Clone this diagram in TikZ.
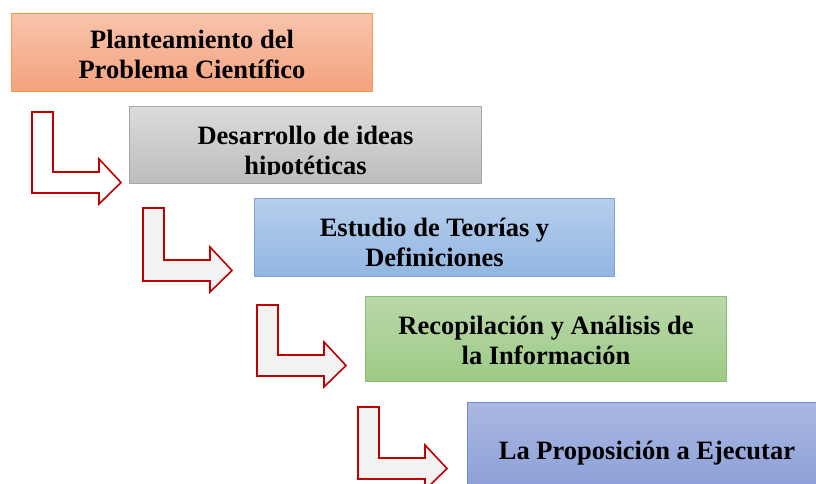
\documentclass[tikz,border=0pt]{standalone}
\usepackage{fontspec}
\setmainfont{Liberation Serif}
\usepackage{tikz}
\usetikzlibrary{calc}
\definecolor{arrowred}{HTML}{C00000}
\definecolor{arrowfill}{HTML}{F2F2F2}
% bent block arrow: [style](left,top)(bar offset)
\def\bentarrow[#1](#2,#3)(#4){\draw[#1] (#2,#3) -- (#2+21,#3) -- (#2+21,#3+#4) -- (#2+67,#3+#4) -- (#2+67,#3+#4-13) -- (#2+89,#3+#4+10.5) -- (#2+67,#3+#4+32) -- (#2+67,#3+#4+21) -- (#2,#3+#4+21) -- cycle;}
\tikzset{
  stepbox/.style={draw, line width=1pt, anchor=north west, inner sep=0pt},
  steptext/.style={align=center, inner sep=0pt, font=\bfseries\fontsize{26.5}{30}\selectfont},
  bentstyle/.style={draw=arrowred, line width=1.6pt, line join=miter, fill=arrowfill}
}

\begin{document}
\begin{tikzpicture}[x=1pt, y=-1pt]
		%%%%% START %%%%%
		\useasboundingbox (0,0) rectangle (816,483);
		\clip (0,0) rectangle (816,483);
		
		\node[stepbox, draw=orange!80!red!70, top color={rgb,255:red,248;green,196;blue,172}, bottom color={rgb,255:red,244;green,162;blue,126},
		  minimum width=361, minimum height=78] (plan) at (11,13) {};
		\node[steptext] (plantext) at ([yshift=-2]plan.center) {Planteamiento del\\Problema Científico};
		
		\node[stepbox, draw=black!35, top color=black!14, bottom color=black!26,
		  minimum width=352, minimum height=77] (ideas) at (129,106) {};
		\begin{scope}
			\clip (ideas.north west) rectangle ([yshift=10]ideas.south east);
			\node[steptext] (ideastext) at ([yshift=-8]ideas.center) {Desarrollo de ideas\\hipotéticas};
		\end{scope}
		
		\node[stepbox, draw={rgb,255:red,126;green,164;blue,214}, top color={rgb,255:red,182;green,206;blue,236}, bottom color={rgb,255:red,146;green,182;blue,226},
		  minimum width=360, minimum height=78] (teorias) at (254,198) {};
		\node[steptext] (teoriastext) at ([yshift=-5]teorias.center) {Estudio de Teorías y\\Definiciones};
		
		\node[stepbox, draw={rgb,255:red,112;green,136;blue,206}, top color={rgb,255:red,170;green,184;blue,226}, bottom color={rgb,255:red,136;green,156;blue,214},
		  minimum width=360, minimum height=100] (propo) at (467,402) {};
		\node[steptext] (propotext) at (647,453) {La Proposición a Ejecutar};
		
		\node[stepbox, draw={rgb,255:red,136;green,190;blue,110}, top color={rgb,255:red,186;green,216;blue,170}, bottom color={rgb,255:red,156;green,202;blue,132},
		  minimum width=361, minimum height=85] (recop) at (365,296) {};
		\node[steptext] (recoptext) at ([yshift=-1]recop.center) {Recopilación y Análisis de\\la Información};
		
		\bentarrow[bentstyle, fill=white](32,112)(60);
		\bentarrow[bentstyle](143,208)(52);
		\bentarrow[bentstyle](257,305)(50);
		\bentarrow[bentstyle](358,407)(51);
		
		%%%%% END %%%%%
	\end{tikzpicture}
\end{document}
